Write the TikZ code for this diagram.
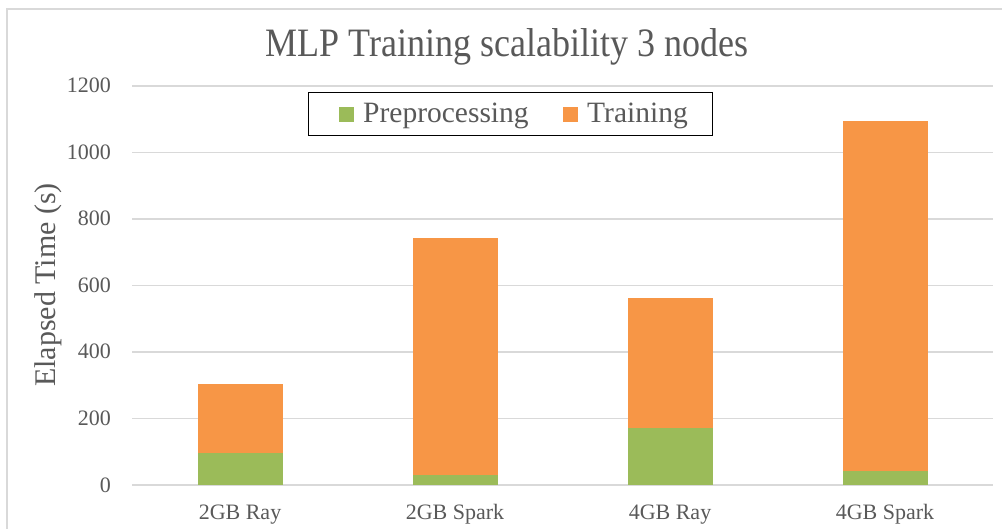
\documentclass[tikz,border=0pt]{standalone}
\usepackage{fontspec}
\setmainfont{Liberation Serif}
\definecolor{txt}{HTML}{595959}
\definecolor{grid}{HTML}{D9D9D9}
\definecolor{pre}{HTML}{9BBB59}
\definecolor{trn}{HTML}{F79646}
\newcommand{\yv}[1]{485-#1*0.3325}
\begin{document}
\begin{tikzpicture}[x=1pt,y=-1pt,
  gridline/.style={draw=grid,line width=1.3pt},
  ticklab/.style={text=txt,font=\fontsize{22}{26}\selectfont,inner sep=0pt},
  prebar/.style={fill=pre,draw=none},
  trnbar/.style={fill=trn,draw=none},
  leglab/.style={text=txt,font=\fontsize{29.5}{34}\selectfont,inner sep=0pt,anchor=base west}]
\useasboundingbox (0,0) rectangle (1002,529);
\fill[white] (0,0) rectangle (1002,529);
% chart border
\draw[draw=grid,line width=1.2pt] (7,529) -- (7,9) -- (1002,9);
% gridlines
\foreach \v in {0,200,400,600,800,1000,1200}{
  \draw[gridline] (132,{\yv{\v}}) -- (993,{\yv{\v}});
  \node[ticklab,anchor=base east] (t\v) at (111,{\yv{\v}+7}) {\v};
}
% bars
\foreach \c/\p/\t/\n in {240/96/303/a,455/30/742/b,670/171/562/c,885/42/1096/d}{
  \fill[prebar] ({\c-42.5},{\yv{0}}) rectangle ({\c+42.5},{\yv{\p}});
  \fill[trnbar] ({\c-42.5},{\yv{\p}}) rectangle ({\c+42.5},{\yv{\t}});
}
% x labels
\node[ticklab,anchor=base] (xa) at (240,519) {2GB Ray};
\node[ticklab,anchor=base] (xb) at (455,519) {2GB Spark};
\node[ticklab,anchor=base] (xc) at (670,519) {4GB Ray};
\node[ticklab,anchor=base] (xd) at (885,519) {4GB Spark};
% title
\node[text=txt,inner sep=0pt,anchor=base] (title) at (507,57)
  {\scalebox{1}[1.12]{\fontsize{36}{40}\selectfont MLP Training scalability 3 nodes}};
% y-axis title
\node[text=txt,inner sep=0pt,anchor=base,rotate=90] (ytitle) at (55,285)
  {\fontsize{30}{34}\selectfont Elapsed Time (s)};
% legend
\node[draw=black,line width=1.2pt,minimum width=404pt,minimum height=43pt,inner sep=0pt,anchor=north west] (legend) at (308,92) {};
\fill[pre] (339,107) rectangle (354,122);
\node[leglab] (lpre) at (363,123) {Preprocessing};
\fill[trn] (563,107) rectangle (578,122);
\node[leglab] (ltrn) at (587,123) {Training};
\end{tikzpicture}
\end{document}
